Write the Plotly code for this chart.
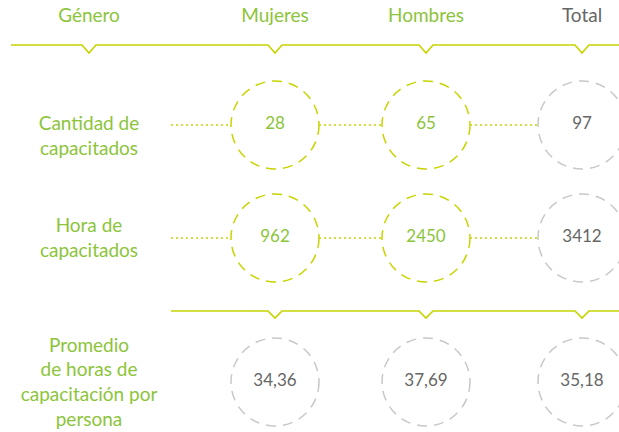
import plotly.graph_objects as go

# ---- data ----
header_label = "Género"
columns = ["Mujeres", "Hombres", "Total"]
row_labels = ["Cantidad de<br>capacitados", "Hora de<br>capacitados",
              "Promedio<br>de horas de<br>capacitación por<br>persona"]
cantidad = ["28", "65", "97"]
horas = ["962", "2450", "3412"]
promedio = ["34,36", "37,69", "35,18"]
values = [cantidad, horas, promedio]

# ---- layout constants (pixels, page coordinates) ----
W, H = 619, 432
label_x = 89
col_x = [275, 426, 582]
row_y = [125, 238, 382]
label_y = [138, 240, 384]
header_y = 17
top_line_y = 45
mid_line_y = 311
R = 44

GREEN = "#8CC43A"
LIME = "#C8D400"
GRAY_TXT = "#666666"
GRAY_LINE = "#C8C8C8"
FONT = "Lato"

fig = go.Figure()


def notched(x_start, x_end, y, notch_xs, depth=7, half=7):
    xs, ys = [x_start], [y]
    for nx in notch_xs:
        xs += [nx - half, nx, nx + half]
        ys += [y, y + depth, y]
    xs.append(x_end)
    ys.append(y)
    return xs, ys


xs, ys = notched(11, W, top_line_y, [label_x] + col_x, depth=8)
fig.add_trace(go.Scatter(x=xs, y=ys, mode="lines", line=dict(color=LIME, width=1.7),
                         hoverinfo="skip", showlegend=False))
xs, ys = notched(171, W, mid_line_y, col_x, depth=7)
fig.add_trace(go.Scatter(x=xs, y=ys, mode="lines", line=dict(color=LIME, width=1.7),
                         hoverinfo="skip", showlegend=False))

# dotted connectors for first two rows
for r in range(2):
    y = row_y[r]
    segs = [(171, col_x[0] - R), (col_x[0] + R, col_x[1] - R), (col_x[1] + R, col_x[2] - R)]
    for a, b in segs:
        fig.add_trace(go.Scatter(x=[a, b], y=[y, y], mode="lines",
                                 line=dict(color=LIME, width=1.6, dash="2px,3px"),
                                 hoverinfo="skip", showlegend=False))

# circles
shapes = []
for r in range(3):
    for c in range(3):
        is_green = r < 2 and c < 2
        shapes.append(dict(type="circle", xref="x", yref="y",
                           x0=col_x[c] - R, x1=col_x[c] + R,
                           y0=row_y[r] - R, y1=row_y[r] + R,
                           line=dict(color=LIME if is_green else GRAY_LINE, width=1.5,
                                     dash="10px,7px")))

# headers
fig.add_trace(go.Scatter(x=[label_x] + col_x, y=[header_y] * 4, mode="text",
                         text=[header_label] + columns, cliponaxis=False,
                         textfont=dict(family=FONT, size=19,
                                       color=[GREEN, GREEN, GREEN, GRAY_TXT]),
                         hoverinfo="skip", showlegend=False))

# row labels
fig.add_trace(go.Scatter(x=[label_x] * 3, y=label_y, mode="text", text=row_labels,
                         cliponaxis=False,
                         textfont=dict(family=FONT, size=19, color=GREEN),
                         hoverinfo="skip", showlegend=False))

# values
for r in range(3):
    colors = [GREEN if (r < 2 and c < 2) else GRAY_TXT for c in range(3)]
    fig.add_trace(go.Scatter(x=col_x, y=[row_y[r]] * 3, mode="text", text=values[r],
                             cliponaxis=False,
                             textfont=dict(family=FONT, size=17, color=colors),
                             hoverinfo="skip", showlegend=False))

fig.update_layout(
    width=W, height=H, margin=dict(l=0, r=0, t=0, b=0),
    paper_bgcolor="white", plot_bgcolor="white",
    xaxis=dict(range=[0, W], visible=False, fixedrange=True),
    yaxis=dict(range=[H, 0], visible=False, fixedrange=True),
    shapes=shapes,
)

fig.write_html("out.html", config={"displayModeBar": False},
               post_script="document.body.style.margin='0';")
